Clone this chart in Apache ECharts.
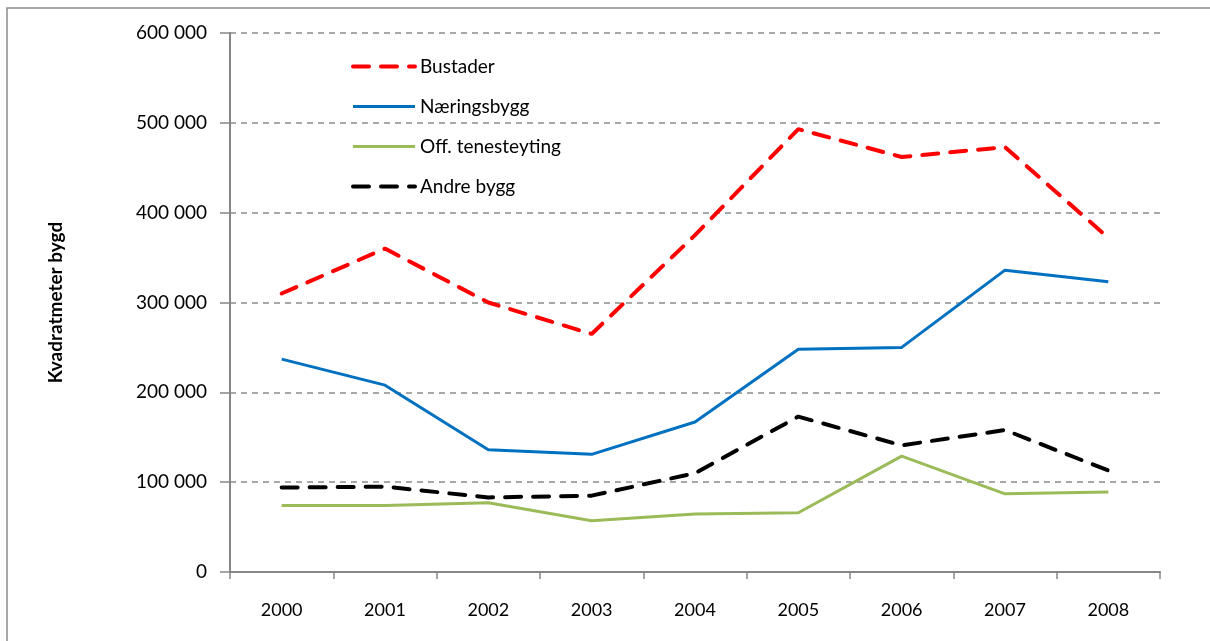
<!DOCTYPE html>
<html>
<head>
<meta charset="utf-8">
<script src="https://cdn.jsdelivr.net/npm/echarts@6/dist/echarts.min.js"></script>
<style>
  html, body { margin: 0; padding: 0; background: #fff; }
  #chart { width: 1210px; height: 641px; }
</style>
</head>
<body>
<div id="chart"></div>
<script>
// år på x-aksen
const years = ['2000', '2001', '2002', '2003', '2004', '2005', '2006', '2007', '2008'];

// kvadratmeter bygd, lest av figuren
const bustader = [310000, 360000, 300000, 265000, 375000, 493000, 462000, 473000, 372000];
const naeringsbygg = [237000, 208000, 136000, 131000, 167000, 248000, 250000, 336000, 323000];
const offTenesteyting = [74000, 74000, 77000, 57000, 64500, 66000, 129000, 87000, 89000];
const andreBygg = [94000, 95000, 83000, 85000, 110000, 173000, 141000, 158000, 113000];

const seriesNames = ['Bustader', 'Næringsbygg', 'Off. tenesteyting', 'Andre bygg'];

const chart = echarts.init(document.getElementById('chart'));

function fmt(v) {
    return String(v).replace(/\B(?=(\d{3})+(?!\d))/g, ' ');
}

const font = 'Lato, "Open Sans", sans-serif';

const option = {
    animation: false,
    textStyle: { fontFamily: font },
    graphic: [{
        type: 'rect',
        shape: { x: 7, y: 8, width: 1220, height: 650 },
        style: { fill: 'none', stroke: '#8c8c8c', lineWidth: 1.5 },
        silent: true
    }],
    grid: { left: 230, top: 33, right: 50, bottom: 69 },
    legend: {
        orient: 'vertical',
        left: 346,
        top: 52,
        itemWidth: 62,
        itemHeight: 14,
        itemGap: 21,
        itemStyle: { opacity: 0 },
        textStyle: { fontSize: 19, color: '#000', fontFamily: font },
        data: [
            { name: seriesNames[0], lineStyle: { width: 4 } },
            { name: seriesNames[1], lineStyle: { width: 3 } },
            { name: seriesNames[2], lineStyle: { width: 3 } },
            { name: seriesNames[3], lineStyle: { width: 4 } }
        ]
    },
    xAxis: {
        type: 'category',
        data: years,
        boundaryGap: true,
        axisLine: { lineStyle: { color: '#868686', width: 2 } },
        axisTick: { show: true, length: 7, lineStyle: { color: '#868686', width: 1.5 } },
        axisLabel: { fontSize: 18, color: '#000', margin: 29, fontFamily: font }
    },
    yAxis: {
        type: 'value',
        min: 0,
        max: 600000,
        interval: 100000,
        name: 'Kvadratmeter bygd',
        nameLocation: 'middle',
        nameGap: 165,
        nameTextStyle: { fontSize: 19, fontWeight: 'bold', color: '#000', fontFamily: font },
        axisLine: { show: true, lineStyle: { color: '#868686', width: 2 } },
        axisTick: { show: true, length: 10, lineStyle: { color: '#868686', width: 1.5 } },
        axisLabel: { fontSize: 19, color: '#000', margin: 23, formatter: fmt, fontFamily: font },
        splitLine: { lineStyle: { color: '#8c8c8c', type: [6, 5], width: 1.5 } }
    },
    series: [
        {
            name: seriesNames[0], type: 'line', data: bustader,
            symbol: 'none', color: '#ff0000',
            lineStyle: { color: '#ff0000', width: 4, type: [16, 12], cap: 'round' }
        },
        {
            name: seriesNames[1], type: 'line', data: naeringsbygg,
            symbol: 'none', color: '#0070c0',
            lineStyle: { color: '#0070c0', width: 3 }
        },
        {
            name: seriesNames[2], type: 'line', data: offTenesteyting,
            symbol: 'none', color: '#9bbb59',
            lineStyle: { color: '#9bbb59', width: 3 }
        },
        {
            name: seriesNames[3], type: 'line', data: andreBygg,
            symbol: 'none', color: '#000000',
            lineStyle: { color: '#000000', width: 4, type: [16, 12], cap: 'round' }
        }
    ]
};

chart.setOption(option);
</script>
</body>
</html>
